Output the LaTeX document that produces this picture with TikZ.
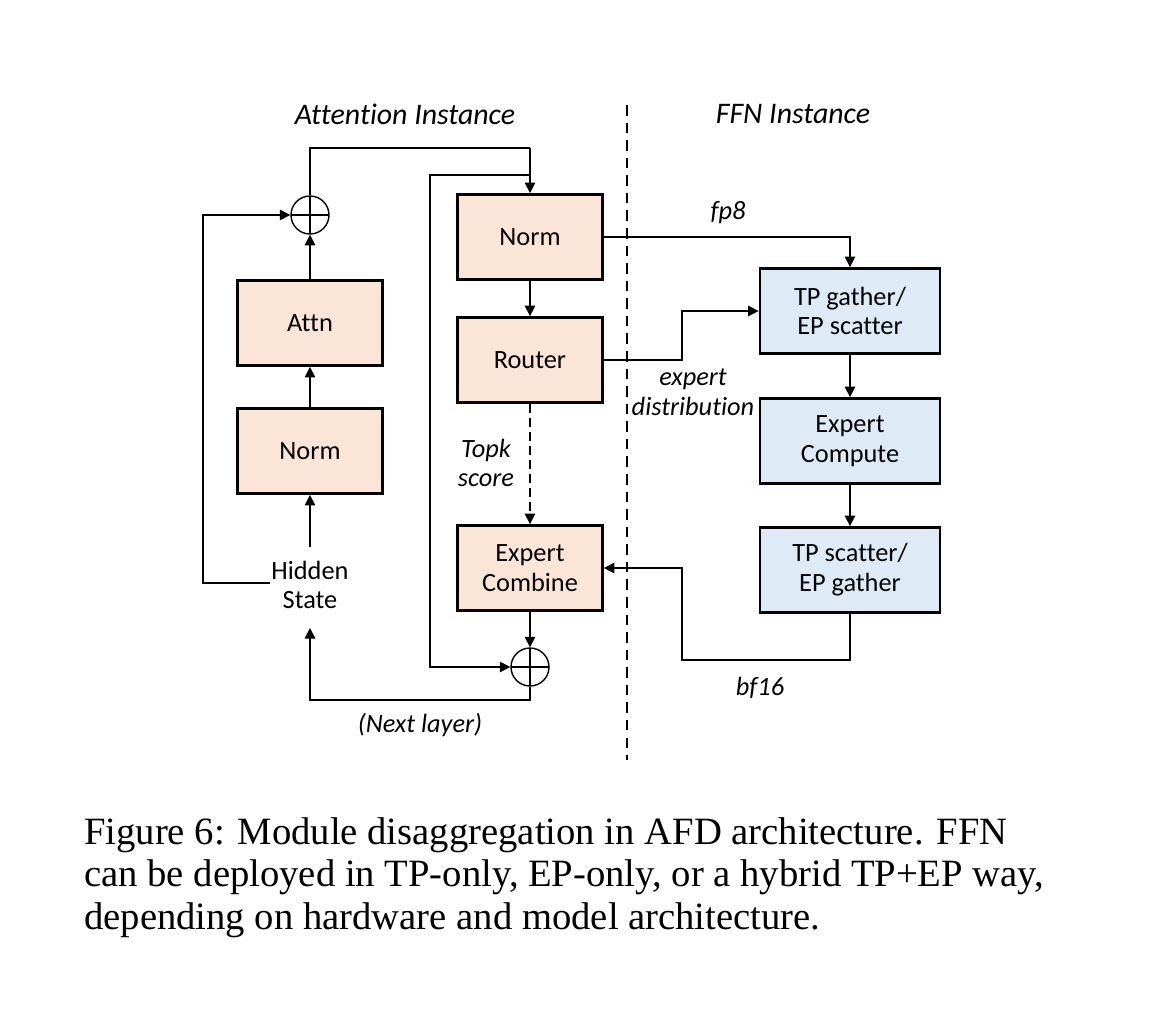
\documentclass[tikz,border=0pt]{standalone}
\usepackage{fontspec}
\setmainfont{Liberation Serif}
\newfontfamily\diag[Ligatures={NoCommon}]{Carlito}
\usetikzlibrary{arrows.meta}
\definecolor{orfill}{HTML}{FBE5D6}
\definecolor{blfill}{HTML}{DEEBF7}
\tikzset{
  box/.style={draw=black, line width=1.6pt, minimum width=2.9cm, minimum height=1.7cm, font=\diag\fontsize{15}{17}\selectfont, align=center},
  ob/.style={box, fill=orfill},
  bb/.style={box, fill=blfill, minimum width=3.6cm},
  plus/.style={draw, circle, line width=0.8pt, minimum size=0.76cm, inner sep=0pt, path picture={\draw[line width=0.8pt] (path picture bounding box.north) -- (path picture bounding box.south) (path picture bounding box.west) -- (path picture bounding box.east);}},
  lbl/.style={font=\diag\itshape\fontsize{15}{17}\selectfont, align=center},
  ttl/.style={font=\diag\itshape\fontsize{17}{20}\selectfont},
  txt/.style={font=\diag\fontsize{15}{17}\selectfont, align=center},
  arr/.style={-{Triangle[length=6pt,width=6pt]}, line width=0.8pt},
  ln/.style={line width=0.8pt},
  captxt/.style={anchor=west, font=\fontsize{22}{26}\selectfont}
}
\begin{document}
\begin{tikzpicture}[x=0.02cm, y=-0.02cm]
\useasboundingbox (0,0) rectangle (1170,1012);
% titles and divider
\node[ttl] at (405,114) {Attention Instance};
\node[ttl] at (793,114) {FFN Instance};
\draw[ln, dash pattern=on 6pt off 4pt] (627,105) -- (627,760);
% attention side
\node[ob] (norm1) at (310,451) {Norm};
\node[ob] (attn) at (310,323) {Attn};
\node[plus] (p1) at (310,215) {};
\node[txt] (hid) at (310,585) {Hidden\\State};
\node[ob] (norm2) at (530,237) {Norm};
\node[ob] (router) at (530,360) {Router};
\node[ob] (comb) at (530,568) {Expert\\Combine};
\node[plus] (p2) at (530,667) {};
% ffn side
\node[bb] (gath) at (850,311) {TP gather/\\EP scatter};
\node[bb] (comp) at (850,441) {Expert\\Compute};
\node[bb] (scat) at (850,570) {TP scatter/\\EP gather};
% coordinates
\coordinate (top) at (530,148);
\coordinate (br) at (530,175);
\coordinate (hl) at (270,583);
% connectors
\draw[arr] (hid.north) ++(0,-8) -- (norm1.south);
\draw[arr] (norm1) -- (attn);
\draw[arr] (attn) -- (p1);
\draw[arr] (hl) -- (203,583) |- (p1.west);
\draw[ln] (p1.north) |- (top);
\draw[arr] (top) -- (norm2.north);
\draw[arr] (br) -- (430,175) |- (p2.west);
\draw[arr] (norm2) -- (router);
\draw[arr, dash pattern=on 5pt off 3pt] (router) -- (comb);
\node[lbl] at (486,463) {Topk\\score};
\draw[arr] (norm2.east) -| (gath.north);
\node[lbl] at (728,213) {fp8};
\draw[arr] (router.east) -- (682,360) |- (gath.west);
\node[lbl, fill=white, inner sep=1pt] at (693,392) {expert\\distribution};
\draw[arr] (gath) -- (comp);
\draw[arr] (comp) -- (scat);
\draw[arr] (scat.south) -- (850,660) -| (682,568) -- (comb.east);
\node[lbl] at (760,688) {bf16};
\draw[arr] (comb) -- (p2);
\draw[arr] (p2.south) |- (310,700) -- (310,628);
\node[lbl] at (420,725) {(Next layer)};
% caption
\node[captxt] at (78,835) {Figure 6: Module disaggregation in AFD architecture. FFN};
\node[captxt] at (78,877) {can be deployed in TP-only, EP-only, or a hybrid TP+EP way,};
\node[captxt] at (78,920) {depending on hardware and model architecture.};
\end{tikzpicture}
\end{document}
